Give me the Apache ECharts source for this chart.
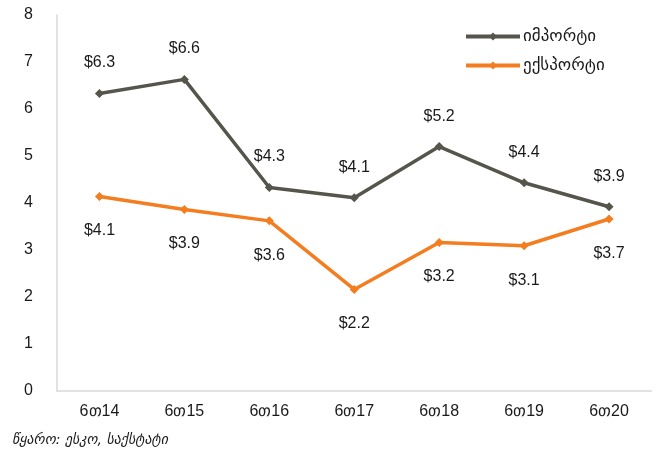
<!DOCTYPE html>
<html><head><meta charset="utf-8">
<script src="https://cdn.jsdelivr.net/npm/echarts@6/dist/echarts.min.js"></script>
<style>html,body{margin:0;padding:0;background:#fff}#c{width:659px;height:457px}</style>
</head><body><div id="c"></div>
<script>
const categories = ['6თ14','6თ15','6თ16','6თ17','6თ18','6თ19','6თ20'];
const importValues = [6.33, 6.63, 4.33, 4.11, 5.2, 4.43, 3.92];
const exportValues = [4.14, 3.86, 3.62, 2.16, 3.16, 3.09, 3.66];
const yTicks = [0,1,2,3,4,5,6,7,8];
const seriesNames = ['იმპორტი','ექსპორტი'];
const sourceText = 'წყარო: ესკო, საქსტატი';

const chart = echarts.init(document.getElementById('c'), null, {renderer:'canvas'});
const lbl = (pos, dist) => ({show:true, position:pos, distance:dist, color:'#1a1a1a', fontSize:16, fontFamily:'Liberation Sans, Arial, sans-serif', formatter: p => '$' + p.value.toFixed(1)});
chart.setOption({
  animation:false,
  grid:{left:57, right:7.5, top:15, bottom:66, containLabel:false},
  legend:{
    orient:'vertical', left:459, top:23,
    itemWidth:54, itemHeight:10, itemGap:12,
    lineStyle:{width:4},
    textStyle:{fontSize:17, color:'#1a1a1a', fontFamily:'DejaVu Sans, sans-serif', padding:[0,0,0,-2]},
    data:seriesNames
  },
  graphic:[{type:'text', left:12, top:433, style:{text:sourceText, fontSize:14, fontStyle:'italic', fill:'#1a1a1a', fontFamily:'DejaVu Sans, sans-serif'}}],
  xAxis:{type:'category', data:categories, boundaryGap:true,
    axisLine:{lineStyle:{color:'#d9d9d9', width:1.5}}, axisTick:{show:false},
    axisLabel:{fontSize:16, color:'#1a1a1a', margin:13, fontFamily:'Liberation Sans, Arial, sans-serif'}},
  yAxis:{type:'value', min:yTicks[0], max:yTicks[yTicks.length-1], interval:1,
    axisLine:{show:true, lineStyle:{color:'#d9d9d9', width:1.5}}, axisTick:{show:false}, splitLine:{show:false},
    axisLabel:{fontSize:16, color:'#1a1a1a', margin:24, fontFamily:'Liberation Sans, Arial, sans-serif'}},
  series:[
    {name:seriesNames[0], type:'line', data:importValues, symbol:'diamond', symbolSize:9,
     lineStyle:{color:'#56554c', width:3.5}, itemStyle:{color:'#56554c'}, label:lbl('top', 18)},
    {name:seriesNames[1], type:'line', data:exportValues, symbol:'diamond', symbolSize:9,
     lineStyle:{color:'#f47d20', width:3.5}, itemStyle:{color:'#f47d20'}, label:lbl('bottom', 22)}
  ]
});
</script></body></html>
